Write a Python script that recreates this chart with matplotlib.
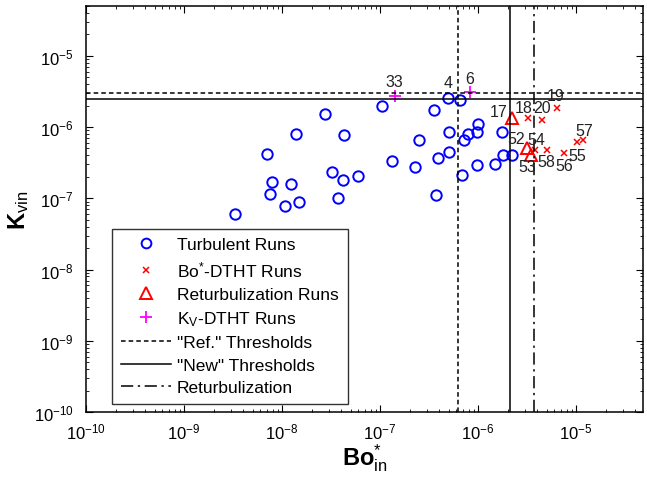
import matplotlib
matplotlib.use("Agg")
import matplotlib.pyplot as plt
from matplotlib.lines import Line2D

plt.rcParams['font.family'] = ['Liberation Sans', 'DejaVu Sans']
plt.rcParams['mathtext.fontset'] = 'custom'
plt.rcParams['mathtext.rm'] = 'Liberation Sans'
plt.rcParams['mathtext.it'] = 'Liberation Sans'
plt.rcParams['mathtext.bf'] = 'Liberation Sans:bold'

# turbulent runs (open circles)
turb_bo = [3.31e-9, 7.03e-9, 7.55e-9, 7.9e-9, 1.07e-8, 1.24e-8, 1.39e-8, 1.49e-8,
           2.75e-8, 3.24e-8, 3.72e-8, 4.19e-8, 4.30e-8, 5.97e-8, 1.05e-7, 1.32e-7,
           2.28e-7, 2.50e-7, 3.56e-7, 3.72e-7, 3.91e-7, 4.94e-7, 5.06e-7, 5.06e-7,
           6.55e-7, 6.87e-7, 7.2e-7, 7.91e-7, 9.77e-7, 9.77e-7, 1.0e-6, 1.49e-6,
           1.76e-6, 1.80e-6, 2.22e-6]
turb_kv = [6.04e-8, 4.2e-7, 1.15e-7, 1.70e-7, 7.8e-8, 1.59e-7, 8.0e-7, 8.9e-8,
           1.53e-6, 2.35e-7, 1.01e-7, 1.81e-7, 7.8e-7, 2.06e-7, 1.99e-6, 3.35e-7,
           2.76e-7, 6.6e-7, 1.75e-6, 1.12e-7, 3.69e-7, 2.57e-6, 8.6e-7, 4.49e-7,
           2.41e-6, 2.13e-7, 6.6e-7, 8.0e-7, 8.6e-7, 2.94e-7, 1.11e-6, 3.04e-7,
           8.6e-7, 4.07e-7, 4.07e-7]

# Bo*-DTHT runs (x)
bo_bo = [3.24e-6, 4.5e-6, 6.4e-6, 3.82e-6, 5.06e-6, 7.55e-6, 1.02e-5, 1.18e-5]
bo_kv = [1.35e-6, 1.26e-6, 1.86e-6, 4.79e-7, 4.79e-7, 4.34e-7, 6.2e-7, 6.6e-7]

# returbulization runs (triangles)
ret_bo = [2.22e-6, 3.16e-6, 3.48e-6]
ret_kv = [1.35e-6, 5.1e-7, 4.07e-7]

# Kv-DTHT runs (+)
kv_bo = [1.42e-7, 8.28e-7]
kv_kv = [2.74e-6, 3.12e-6]

# run number labels
run_labels = ['33', '4', '6', '17', '18', '20', '19', '52', '54', '53', '58', '56', '55', '57']
label_bo = [1.39e-7, 4.94e-7, 8.1e-7, 1.6e-6, 2.88e-6, 4.5e-6, 6.1e-6, 2.44e-6,
            3.9e-6, 3.16e-6, 4.94e-6, 7.55e-6, 1.02e-5, 1.21e-5]
label_kv = [4.3e-6, 4.18e-6, 4.75e-6, 1.63e-6, 1.86e-6, 1.86e-6, 2.74e-6, 6.8e-7,
            6.6e-7, 2.76e-7, 3.25e-7, 2.85e-7, 3.94e-7, 8.85e-7]

# thresholds
ref_bo, ref_kv = 6.25e-7, 3.0e-6
new_bo, new_kv = 2.12e-6, 2.49e-6
returb_bo = 3.72e-6

fig = plt.figure(figsize=(6.47, 4.85), dpi=100)
ax = fig.add_axes([86 / 647, 72 / 485, 557 / 647, 406 / 485])
ax.set_xscale('log')
ax.set_yscale('log')
ax.set_xlim(1e-10, 4.8e-5)
ax.set_ylim(1e-10, 5e-5)

ax.plot(turb_bo, turb_kv, 'o', mfc='none', mec='#0000ff', ms=7.5, mew=1.4, ls='none')
ax.plot(bo_bo, bo_kv, 'x', color='#ff0000', ms=4.5, mew=1.1, ls='none')
ax.plot(ret_bo, ret_kv, '^', mfc='none', mec='#ff0000', ms=8, mew=1.4, ls='none')
ax.plot(kv_bo, kv_kv, '+', color='#ff00ff', ms=9, mew=1.3, ls='none')

ax.axvline(ref_bo, color='k', ls=(0, (3, 2)), lw=1.1)
ax.axhline(ref_kv, color='k', ls=(0, (3, 2)), lw=1.1)
ax.axvline(new_bo, color='k', ls='-', lw=1.1)
ax.axhline(new_kv, color='k', ls='-', lw=1.1)
ax.axvline(returb_bo, color='k', ls=(0, (8, 3, 1.5, 3)), lw=1.1)

for t, xb, yk in zip(run_labels, label_bo, label_kv):
    ax.text(xb, yk, t, fontsize=11.5, ha='center', va='center', color='#222222')

ax.tick_params(which='both', direction='in', top=True, right=True, labelsize=12)
ax.tick_params(axis='x', which='major', pad=7)
ax.tick_params(axis='y', which='major', pad=9)
ax.tick_params(which='major', length=5)
ax.tick_params(which='minor', length=2.5)
for s in ax.spines.values():
    s.set_linewidth(1.1)

ax.set_xlabel(r'$\mathbf{Bo}^{*}_{\mathrm{in}}$', fontsize=17, labelpad=0)
ax.set_ylabel(r'$\mathbf{K}_{\mathrm{vin}}$', fontsize=17, labelpad=2)

handles = [
    Line2D([], [], marker='o', ls='none', mfc='none', mec='#0000ff', ms=7, mew=1.4),
    Line2D([], [], marker='x', ls='none', color='#ff0000', ms=4.5, mew=1.1),
    Line2D([], [], marker='^', ls='none', mfc='none', mec='#ff0000', ms=8, mew=1.4),
    Line2D([], [], marker='+', ls='none', color='#ff00ff', ms=9, mew=1.3),
    Line2D([], [], color='k', ls=(0, (3, 2)), lw=1.1),
    Line2D([], [], color='k', ls='-', lw=1.1),
    Line2D([], [], color='k', ls=(0, (8, 3, 1.5, 3)), lw=1.1),
]
labels = ['Turbulent Runs', r'Bo$^{*}$-DTHT Runs', 'Returbulization Runs',
          r'K$_{V}$-DTHT Runs', '"Ref." Thresholds', '"New" Thresholds', 'Returbulization']
leg = ax.legend(handles, labels, loc='lower left', bbox_to_anchor=(0.0467, 0.0197),
                borderaxespad=0, fontsize=12.5, frameon=True, fancybox=False,
                edgecolor='k', handlelength=2.9, labelspacing=0.42, borderpad=0.5,
                handletextpad=0.35)
leg.get_frame().set_linewidth(1.0)

fig.savefig('out.png', dpi=100)
